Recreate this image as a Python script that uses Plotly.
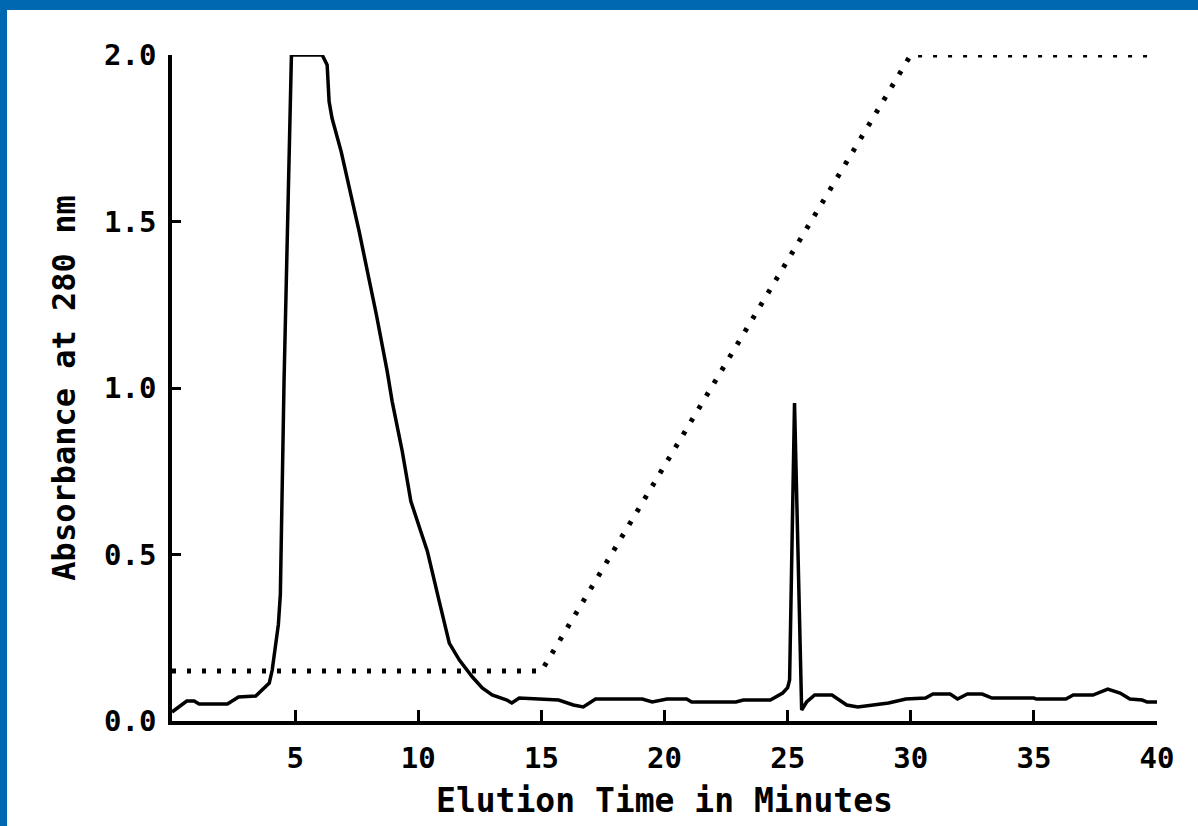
import plotly.graph_objects as go

# Absorbance trace (solid line)
time_min = [0, 0.3, 0.6, 0.9, 1.1, 2.25, 2.7, 3.4, 3.95, 4.07, 4.2, 4.32, 4.4, 4.55, 4.85,
            6.1, 6.3, 6.38, 6.5, 6.87, 7.6, 8.0, 8.3, 8.74, 8.94, 9.35, 9.7, 10.1, 10.37,
            10.85, 11.26, 11.67, 12.2, 12.6, 13.0, 13.6, 13.8, 14.1, 14.8, 15.7, 16.3, 16.7,
            17.2, 19.1, 19.5, 20.1, 20.9, 21.1, 22.9, 23.2, 24.3, 24.8, 25.0, 25.08, 25.28,
            25.57, 25.77, 26.1, 26.8, 27.4, 27.85, 29.1, 29.8, 30.6, 30.9, 31.6, 31.9, 32.3,
            32.9, 33.3, 35.0, 35.1, 36.3, 36.6, 37.4, 38.0, 38.5, 38.9, 39.4, 39.6, 40.0]
absorbance = [0.027, 0.045, 0.06, 0.06, 0.051, 0.051, 0.072, 0.075, 0.114, 0.153, 0.234, 0.29,
              0.38, 1.02, 2.0, 2.0, 1.97, 1.86, 1.81, 1.71, 1.47, 1.33, 1.22, 1.05, 0.96, 0.81,
              0.66, 0.57, 0.51, 0.36, 0.234, 0.183, 0.132, 0.099, 0.078, 0.063, 0.054, 0.069,
              0.066, 0.063, 0.048, 0.042, 0.066, 0.066, 0.057, 0.066, 0.066, 0.057, 0.057,
              0.063, 0.063, 0.084, 0.10, 0.123, 0.955, 0.033, 0.057, 0.078, 0.078, 0.048,
              0.042, 0.054, 0.066, 0.069, 0.081, 0.081, 0.066, 0.081, 0.081, 0.069, 0.069,
              0.066, 0.066, 0.078, 0.078, 0.096, 0.084, 0.066, 0.063, 0.057, 0.057]

# Gradient profile (dotted line)
grad_time = [0, 15, 30, 40]
grad_level = [0.15, 0.15, 2.0, 2.0]

x_ticks = [5, 10, 15, 20, 25, 30, 35, 40]
y_ticks = [0.0, 0.5, 1.0, 1.5, 2.0]
y_tick_labels = ["0.0", "0.5", "1.0", "1.5", "2.0"]

FONT = "DejaVu Sans Mono"
BLUE = "#0067B1"

fig = go.Figure()
fig.add_trace(go.Scatter(x=grad_time, y=grad_level, mode="lines",
                         line=dict(color="black", width=5, dash="4px,11px"),
                         cliponaxis=False, showlegend=False, hoverinfo="skip"))
fig.add_trace(go.Scatter(x=time_min, y=absorbance, mode="lines",
                         line=dict(color="black", width=3.5),
                         cliponaxis=False, showlegend=False))

L, R, T, B = 172, 41, 55, 105
W, H = 1198, 826
pw, ph = W - L - R, H - T - B

fig.update_layout(
    width=W, height=H,
    margin=dict(l=L, r=R, t=T, b=B),
    paper_bgcolor="white", plot_bgcolor="white",
    font=dict(family=FONT, color="black", size=30, weight="bold"),
    xaxis=dict(range=[0, 40], tickvals=x_ticks, ticks="inside", ticklen=11, tickwidth=3,
               tickcolor="black", showline=True, linecolor="black", linewidth=3.5,
               showgrid=False, zeroline=False, ticklabelstandoff=8,
               tickfont=dict(family=FONT, size=29, color="black", weight="bold"),
               title=dict(text="Elution Time in Minutes", standoff=16,
                          font=dict(family=FONT, size=33, color="black", weight="bold"))),
    yaxis=dict(range=[0, 2.0], tickvals=y_ticks, ticktext=y_tick_labels, ticks="inside",
               ticklen=9, tickwidth=3, tickcolor="black", showline=True, linecolor="black",
               linewidth=3.5, showgrid=False, zeroline=False, ticklabelstandoff=6,
               tickfont=dict(family=FONT, size=29, color="black", weight="bold"),
               title=dict(text="Absorbance at 280 nm", standoff=20,
                          font=dict(family=FONT, size=32, color="black", weight="bold"))),
    shapes=[
        dict(type="rect", xref="paper", yref="paper",
             x0=(0 - L) / pw, x1=(W - L) / pw, y0=(H - B - 10) / ph, y1=(H - B) / ph + 0.01,
             fillcolor=BLUE, line=dict(width=0), layer="above"),
        dict(type="rect", xref="paper", yref="paper",
             x0=(0 - L) / pw - 0.01, x1=(7 - L) / pw, y0=-B / ph - 0.01, y1=(H - B) / ph + 0.01,
             fillcolor=BLUE, line=dict(width=0), layer="above"),
    ],
)

fig.write_html("out.html")
